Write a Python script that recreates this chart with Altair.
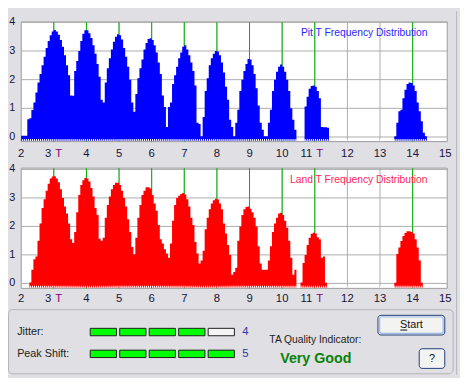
import altair as alt
import pandas as pd

FONT = "Liberation Sans"
BIN = 1 / 16  # histogram bin width in T

# ---------------- data ----------------
pit_main_start = 2.0
pit_main = [0.04, 0.04, 0.04, 0.62, 0.65, 0.94, 1.2, 1.55, 1.9, 2.2,
            2.5, 2.8, 3.1, 3.35, 3.55, 3.68, 3.73, 3.68, 3.57, 3.38,
            3.15, 2.85, 2.5, 2.15, 1.45, 1.44, 2.3, 2.65, 3.0, 3.35,
            3.6, 3.72, 3.72, 3.62, 3.45, 3.2, 2.9, 2.55, 2.1, 1.3,
            1.2, 1.9, 2.4, 2.75, 3.05, 3.32, 3.5, 3.58, 3.55, 3.4,
            3.1, 2.8, 2.45, 2.0, 1.2, 0.88, 1.5, 2.05, 2.4, 2.7,
            3.05, 3.28, 3.42, 3.44, 3.38, 3.2, 2.95, 2.6, 2.2, 1.45,
            1.05, 0.35, 1.05, 1.2, 1.85, 2.15, 2.45, 2.75, 2.95, 3.15,
            3.2, 3.05, 2.85, 2.6, 2.3, 1.8, 0.5, 0.45, 0.03, 0.7,
            1.6, 2.05, 2.5, 2.75, 2.9, 3.0, 2.98, 2.85, 2.6, 2.25,
            1.75, 1.3, 0.6, 0.35, 0.03, 0.5, 0.95, 1.6, 2.0, 2.3,
            2.55, 2.72, 2.7, 2.5, 2.2, 1.7, 1.1, 0.5, 0.25, 0.03,
            0.03, 0.5, 0.95, 1.6, 2.0, 2.28, 2.45, 2.53, 2.45, 2.28,
            2.0, 1.6, 1.0, 0.6, 0.25]
pit_11t_start = 10.6875
pit_11t = [1.06, 1.4, 1.68, 1.78, 1.8, 1.75, 1.6, 1.35, 0.35, 0.34, 0.34, 0.32]
pit_14t_start = 13.4375
pit_14t = [0.03, 0.5, 0.9, 0.95, 1.35, 1.65, 1.85, 1.9, 1.88, 1.8, 1.6, 1.2,
           0.9, 0.55, 0.15, 0.03]

land_main_start = 2.25
land_main = [0.03, 0.48, 0.85, 0.94, 1.5, 2.1, 2.65, 2.95, 3.25, 3.5,
             3.68, 3.75, 3.76, 3.68, 3.55, 3.3, 3.0, 2.7, 2.45, 2.1,
             1.55, 1.42, 1.8, 2.5, 3.1, 3.45, 3.62, 3.7, 3.68, 3.58,
             3.35, 3.05, 2.65, 2.4, 1.57, 1.5, 1.6, 2.3, 2.75, 3.05,
             3.3, 3.45, 3.53, 3.53, 3.45, 3.25, 3.0, 2.7, 2.25, 1.8,
             1.28, 1.02, 1.6, 2.3, 2.75, 3.1, 3.25, 3.37, 3.37, 3.33,
             3.1, 2.8, 2.55, 2.05, 1.55, 1.4, 1.2, 1.05, 0.9, 1.4,
             2.2, 2.75, 3.0, 3.08, 3.14, 3.17, 3.12, 2.95, 2.7, 2.3,
             2.05, 1.45, 1.05, 0.7, 0.8, 1.15, 1.9, 2.3, 2.6, 2.8,
             2.92, 2.97, 2.94, 2.8, 2.6, 2.1, 1.75, 1.35, 1.0, 0.3,
             0.4, 0.55, 1.5, 2.0, 2.4, 2.6, 2.68, 2.7, 2.62, 2.5,
             2.3, 2.0, 1.3, 0.7, 0.48, 0.48, 0.48, 0.8, 1.3, 1.8,
             2.1, 2.3, 2.45, 2.48, 2.4, 2.2, 1.95, 1.5, 0.9, 0.3,
             0.48]
land_11t_start = 10.5625
land_11t = [0.03, 0.72, 1.0, 1.35, 1.6, 1.74, 1.78, 1.75, 1.62, 1.55, 0.9, 0.94, 0.02]
land_14t_start = 13.4375
land_14t = [0.02, 1.03, 1.26, 1.49, 1.66, 1.77, 1.83, 1.83, 1.8, 1.75, 1.55, 1.26,
            0.8, 0.02]

y_ticks = [0, 1, 2, 3, 4]
x_ticks = list(range(2, 16))
x_tick_labels = [str(t) for t in x_ticks]
t_suffix_ticks = [3, 11]
grid_x_ticks = list(range(3, 15))
peak_marks = [3, 4, 5, 6, 7, 8, 9, 10, 11, 14]

meter_names = ["Jitter:", "Peak Shift:"]
meter_scores = [4, 5]
meter_cells = 5
quality_label = "TA Quality Indicator:"
quality_value = "Very Good"

# ---------------- tables ----------------
def series_table(segments):
    rows = []
    for seg_id, (start, vals) in enumerate(segments):
        for i, v in enumerate(vals):
            rows.append({"T": start + i * BIN, "v": v, "seg": seg_id})
        rows.append({"T": start + len(vals) * BIN, "v": vals[-1], "seg": seg_id})
    return pd.DataFrame(rows)

pit_df = series_table([(pit_main_start, pit_main), (pit_11t_start, pit_11t),
                       (pit_14t_start, pit_14t)])
land_df = series_table([(land_main_start, land_main), (land_11t_start, land_11t),
                        (land_14t_start, land_14t)])

one = pd.DataFrame({"k": [0]})
ygrid_df = pd.DataFrame({"tick": y_ticks, "lab": [str(t) for t in y_ticks]})
xgrid_df = pd.DataFrame({"tick": grid_x_ticks})
peaks_df = pd.DataFrame({"tick": peak_marks})
xlab_df = pd.DataFrame({"tick": x_ticks, "lab": x_tick_labels})
xlab_plain = xlab_df[~xlab_df["tick"].isin(t_suffix_ticks)]
xlab_t = xlab_df[xlab_df["tick"].isin(t_suffix_ticks)]

AXIS_TEXT = "#15153A"
GRID = "#ABABAB"
GREEN = "#00B400"


def panel(series, fill, title, title_color, y_range, top_px, bottom_px,
          label_px, title_px):
    xs = alt.Scale(domain=[2, 15], range=[13.4, 445.0], nice=False, zero=False)
    ys = alt.Scale(domain=[0, 4], range=y_range, nice=False, zero=False)
    left_px, right_px = 13.5, 447.0
    X = lambda f: alt.X(f, type="quantitative", scale=xs, axis=None)
    Y = lambda f: alt.Y(f, type="quantitative", scale=ys, axis=None)

    bg = alt.Chart(one).mark_rect(fill="white", stroke="#9A9A9A", strokeWidth=1).encode(
        x=alt.value(left_px), x2=alt.value(right_px),
        y=alt.value(top_px), y2=alt.value(bottom_px))
    hgrid = alt.Chart(ygrid_df).mark_rule(color=GRID, strokeWidth=1).encode(
        y=Y("tick"), x=alt.value(left_px), x2=alt.value(right_px))
    vgrid = alt.Chart(xgrid_df).mark_rule(color=GRID, strokeWidth=1).encode(
        x=X("tick"), y=alt.value(top_px), y2=alt.value(bottom_px))
    green = alt.Chart(peaks_df).mark_rule(color=GREEN, strokeWidth=1).encode(
        x=X("tick"), y=alt.value(top_px), y2=alt.value(bottom_px))
    area = alt.Chart(series).mark_area(interpolate="step-after", color=fill).encode(
        x=X("T"),
        y=alt.Y("v", type="quantitative", scale=ys, axis=None, stack=None),
        y2=alt.value(bottom_px - 0.8), detail="seg:N")
    dots = alt.Chart(one).mark_rule(color="white", strokeWidth=2, strokeDash=[1, 1]).encode(
        x=alt.value(left_px + 1), x2=alt.value(right_px - 1), y=alt.value(bottom_px - 1.6))
    ylab = alt.Chart(ygrid_df).mark_text(
        align="right", baseline="middle", fontSize=11, color=AXIS_TEXT, font=FONT).encode(
        x=alt.value(7.5), y=Y("tick"), text="lab:N")
    xlab1 = alt.Chart(xlab_plain).mark_text(
        align="center", baseline="middle", fontSize=11.5, color=AXIS_TEXT, font=FONT).encode(
        x=X("tick"), y=alt.value(label_px), text="lab:N")
    xlab2 = alt.Chart(xlab_t).mark_text(
        align="right", baseline="middle", dx=-2.5, fontSize=11.5, color=AXIS_TEXT, font=FONT).encode(
        x=X("tick"), y=alt.value(label_px), text="lab:N")
    xlab3 = alt.Chart(xlab_t).mark_text(
        align="left", baseline="middle", dx=1.5, fontSize=11.5, color="#800080",
        font=FONT, text="T").encode(x=X("tick"), y=alt.value(label_px))
    ttl = alt.Chart(one).mark_text(
        align="right", baseline="middle", fontSize=10.5, color=title_color,
        font=FONT, text=title).encode(x=alt.value(427), y=alt.value(title_px))
    return alt.layer(bg, hgrid, vgrid, green, area, dots, ylab, xlab1, xlab2, xlab3, ttl)


top_panel = panel(pit_df, "#0000FF", "Pit T Frequency Distribution", "#2828FF",
                  [128.0, 11.3], 11.0, 132.7, 145.0, 22.5)
bottom_panel = panel(land_df, "#FF0000", "Land T Frequency Distribution", "#FF1E5A",
                     [277.0, 161.0], 159.7, 282.0, 293.0, 172.0)

# ---------------- bottom control panel ----------------
meter_df = pd.DataFrame([
    {"row": r, "i": i, "i2": i + 0.89, "y0": r - 0.17, "y1": r + 0.17,
     "state": "on" if i < s else "off"}
    for r, s in enumerate(meter_scores) for i in range(meter_cells)])
meter_lab_df = pd.DataFrame({"row": [0, 1], "name": meter_names, "score": meter_scores})
mx = alt.Scale(domain=[0, 5], range=[83.7, 233.7], nice=False, zero=False)
my = alt.Scale(domain=[0, 1], range=[326.5, 348.7], nice=False, zero=False)

group_box = alt.Chart(one).mark_rect(
    fillOpacity=0, stroke="#B4B4BA", strokeWidth=1, cornerRadius=4).encode(
    x=alt.value(0.5), x2=alt.value(453.0), y=alt.value(303.7), y2=alt.value(369.0))
frame_line = alt.Chart(one).mark_rule(color="#B8B8BE", strokeWidth=1).encode(
    x=alt.value(456.5), y=alt.value(0), y2=alt.value(370))
meter = alt.Chart(meter_df).mark_rect(stroke="#1E1E1E", strokeWidth=1).encode(
    x=alt.X("i:Q", scale=mx, axis=None), x2="i2:Q",
    y=alt.Y("y0:Q", scale=my, axis=None), y2="y1:Q",
    fill=alt.Fill("state:N", scale=alt.Scale(domain=["on", "off"],
                                             range=["#00FF00", "#F4F4F4"]), legend=None))
meter_names_t = alt.Chart(meter_lab_df).mark_text(
    align="left", baseline="middle", fontSize=11, color="#222222", font=FONT).encode(
    x=alt.value(9.3), y=alt.Y("row:Q", scale=my, axis=None), text="name:N")
meter_scores_t = alt.Chart(meter_lab_df).mark_text(
    align="left", baseline="middle", fontSize=11.5, color="#3434A8", font=FONT).encode(
    x=alt.value(238.5), y=alt.Y("row:Q", scale=my, axis=None), text="score:Q")
qa_label = alt.Chart(one).mark_text(
    align="left", baseline="middle", fontSize=10.5, color="#222222", font=FONT,
    text=quality_label).encode(x=alt.value(266), y=alt.value(335))
qa_value = alt.Chart(one).mark_text(
    align="left", baseline="middle", fontSize=14.5, fontWeight="bold", color="#0A820A",
    font=FONT, text=quality_value).encode(x=alt.value(277), y=alt.value(354.5))
start_btn = alt.Chart(one).mark_rect(
    fill="#F3F3F1", stroke="#1F3E78", strokeWidth=1, cornerRadius=3).encode(
    x=alt.value(376.5), x2=alt.value(444.5), y=alt.value(309.5), y2=alt.value(329.5))
start_glow = alt.Chart(one).mark_rect(
    fillOpacity=0, stroke="#9DB9EB", strokeWidth=1.2, cornerRadius=2).encode(
    x=alt.value(378.2), x2=alt.value(442.8), y=alt.value(311.2), y2=alt.value(327.8))
start_txt = alt.Chart(one).mark_text(
    align="center", baseline="middle", fontSize=11, color="#111111", font=FONT,
    text="Start").encode(x=alt.value(410.5), y=alt.value(319.5))
start_ul = alt.Chart(one).mark_rule(color="#111111", strokeWidth=1).encode(
    x=alt.value(399.3), x2=alt.value(406.3), y=alt.value(324.5))
help_btn = alt.Chart(one).mark_rect(
    fill="#F3F3F1", stroke="#1F3E78", strokeWidth=1, cornerRadius=3).encode(
    x=alt.value(418.5), x2=alt.value(444.5), y=alt.value(343.5), y2=alt.value(363.5))
help_txt = alt.Chart(one).mark_text(
    align="center", baseline="middle", fontSize=11, color="#111111", font=FONT,
    text="?").encode(x=alt.value(431.5), y=alt.value(353.5))

ui = alt.layer(group_box, frame_line, meter, meter_names_t, meter_scores_t,
               qa_label, qa_value, start_btn, start_glow, start_txt, start_ul,
               help_btn, help_txt)

chart = alt.layer(top_panel, bottom_panel, ui).resolve_scale(
    x="independent", y="independent"
).properties(
    width=460, height=370, padding=0,
    autosize=alt.AutoSizeParams(type="none"),
    background="#E0DFE3",
).configure(font=FONT).configure_view(strokeWidth=0)

chart.save("out.html", embed_options={"renderer": "svg", "actions": False})
